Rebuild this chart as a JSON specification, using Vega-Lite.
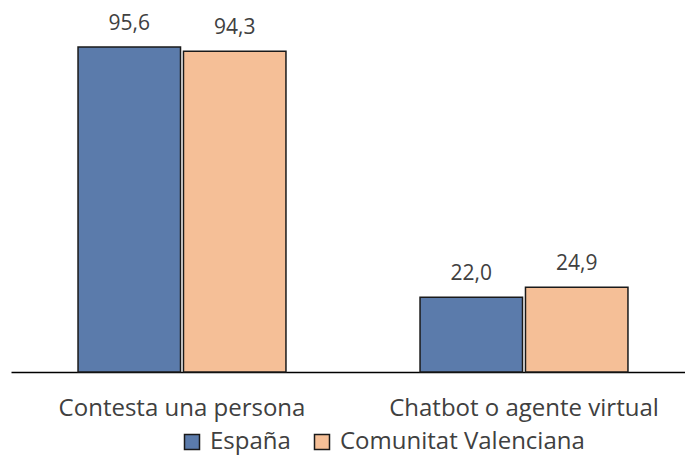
{
  "$schema": "https://vega.github.io/schema/vega-lite/v6.json",
  "autosize": "none",
  "width": 684,
  "height": 372,
  "padding": {"left": 11, "top": 0, "right": 0, "bottom": 87},
  "background": "white",
  "config": {
    "locale": {"number": {"decimal": ",", "thousands": ".", "grouping": [3], "currency": ["", " €"]}},
    "view": {"stroke": null},
    "font": "Open Sans"
  },
  "data": {
    "values": [
      {"categoria": "Contesta una persona", "territorio": "España", "valor": 95.6},
      {"categoria": "Contesta una persona", "territorio": "Comunitat Valenciana", "valor": 94.3},
      {"categoria": "Chatbot o agente virtual", "territorio": "España", "valor": 22.0},
      {"categoria": "Chatbot o agente virtual", "territorio": "Comunitat Valenciana", "valor": 24.9}
    ]
  },
  "encoding": {
    "x": {
      "field": "categoria", "type": "nominal", "sort": ["Contesta una persona", "Chatbot o agente virtual"],
      "scale": {"paddingInner": 0.392, "paddingOuter": 0.196},
      "axis": {"title": null, "labelAngle": 0, "ticks": false, "domainColor": "#000000", "domainWidth": 1.5,
               "labelFont": "Open Sans", "labelFontSize": 24, "labelColor": "#404040", "labelPadding": 24, "labelLimit": 0}
    },
    "xOffset": {"field": "territorio", "type": "nominal", "sort": ["España", "Comunitat Valenciana"], "scale": {"paddingInner": 0.028}},
    "y": {"field": "valor", "type": "quantitative", "scale": {"domain": [0, 109.4], "nice": false}, "axis": null}
  },
  "layer": [
    {
      "mark": {"type": "bar", "stroke": "#1a1a1a", "strokeWidth": 1.5},
      "encoding": {
        "color": {
          "field": "territorio", "type": "nominal", "sort": ["España", "Comunitat Valenciana"],
          "scale": {"domain": ["España", "Comunitat Valenciana"], "range": ["#5b7bab", "#f5bf97"]},
          "legend": {"title": null, "orient": "none", "legendX": 169, "legendY": 430, "direction": "horizontal", "padding": 0,
                     "symbolType": "square", "symbolSize": 225, "symbolStrokeColor": "#1a1a1a", "symbolStrokeWidth": 1.5,
                     "labelFont": "Open Sans", "labelFontSize": 24, "labelColor": "#404040", "columnPadding": 19, "labelOffset": 6, "labelLimit": 0}
        }
      }
    },
    {
      "mark": {"type": "text", "baseline": "bottom", "dy": -13, "font": "Open Sans", "fontSize": 21, "color": "#404040"},
      "encoding": {"text": {"field": "valor", "type": "quantitative", "format": ".1f"}}
    }
  ]
}
